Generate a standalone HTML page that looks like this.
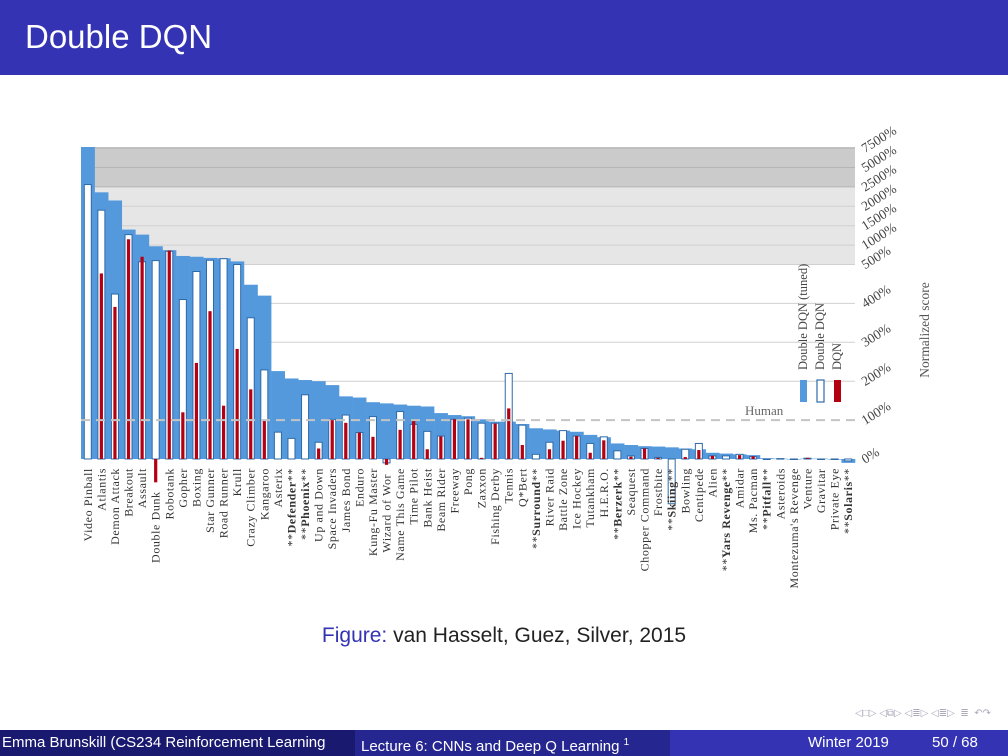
<!DOCTYPE html>
<html><head><meta charset="utf-8"><style>
body{margin:0;width:1008px;height:756px;overflow:hidden;background:#fff;font-family:"Liberation Sans",sans-serif;position:relative}
#hdr{position:absolute;left:0;top:0;width:1008px;height:75px;background:#3333b3;color:#fff;font-size:33px}
#hdr span{position:absolute;left:25px;top:18px}
#cap{position:absolute;top:624px;left:0;width:1008px;text-align:center;font-size:21px;color:#222}
#cap b{font-weight:normal;color:#3333b3}
#foot{position:absolute;left:0;top:730px;height:26px;width:1008px;color:#fff;font-size:15px}
#foot div{position:absolute;top:0;height:26px;line-height:26px;white-space:nowrap;overflow:hidden}
#nav{position:absolute;left:855px;top:708px;color:#aab;font-size:10px;white-space:nowrap}
</style></head><body>
<div id="hdr"><span>Double DQN</span></div>
<svg id="chart" width="1008" height="620" style="position:absolute;left:0;top:0"></svg>
<div id="cap"><b>Figure:</b> van Hasselt, Guez, Silver, 2015</div>
<div id="nav">◁□▷ ◁⧉▷ ◁≣▷ ◁≣▷ &nbsp;≣ &nbsp;↶↷</div>
<div id="foot">
<div style="left:0;width:355px;background:#191970;padding-left:2px">Emma Brunskill (CS234 Reinforcement Learning</div>
<div style="left:355px;width:315px;background:#262690;padding-left:6px">Lecture 6: CNNs and Deep Q Learning <sup style="font-size:10px">1</sup></div>
<div style="left:670px;width:338px;background:#3333b3"><span style="position:absolute;left:138px">Winter 2019</span><span style="position:absolute;left:262px">50 / 68</span></div>
</div>
<script>
const games=["Video Pinball","Atlantis","Demon Attack","Breakout","Assault","Double Dunk","Robotank","Gopher","Boxing","Star Gunner","Road Runner","Krull","Crazy Climber","Kangaroo","Asterix","**Defender**","**Phoenix**","Up and Down","Space Invaders","James Bond","Enduro","Kung-Fu Master","Wizard of Wor","Name This Game","Time Pilot","Bank Heist","Beam Rider","Freeway","Pong","Zaxxon","Fishing Derby","Tennis","Q*Bert","**Surround**","River Raid","Battle Zone","Ice Hockey","Tutankham","H.E.R.O.","**Berzerk**","Seaquest","Chopper Command","Frostbite","**Skiing**","Bowling","Centipede","Alien","**Yars Revenge**","Amidar","Ms. Pacman","**Pitfall**","Asteroids","Montezuma's Revenge","Venture","Gravitar","Private Eye","**Solaris**"];
const tuned=[8000,2360,2150,1400,1270,970,870,720,700,670,660,580,448,420,226,207,203,200,190,161,158,146,143,140,137,135,118,113,110,102,96,96,90,79,76,73,70,62,56,40,36,33,32,30,27,25,16,14,12,10,2,1,0,1,1,0,-10];
const ddqn=[2800,1900,424,1270,570,600,840,410,482,610,650,500,363,229,69,53,165,43,102,113,68,109,-10,122,89,71,59,102,105,92,92,220,87,12,43,73,59,40,57,21,8,27,4,-115,25,40,8,8,12,6,0,1,0,2,-1,0,-5];
const dqn=[0,477,391,1150,700,-60,860,120,247,380,137,283,179,98,0,0,0,27,100,93,68,57,-15,75,100,25,58,102,102,3,91,130,36,0,25,47,59,16,48,0,6,27,3,0,5,23,8,0,10,7,0,1,0,3,-1,0,0];
const tickVals=[0,100,200,300,400,500,1000,1500,2000,2500,5000,7500];
const tickLabels=["0%","100%","200%","300%","400%","500%","1000%","1500%","2000%","2500%","5000%","7500%"];
const svg=document.getElementById('chart');const NS='http://www.w3.org/2000/svg';
const X0=81,X1=855,Y0=459;
const slot=(X1-X0)/games.length;
function y(v){ if(v<=500) return Y0-v*0.389;
 const ks=[500,1000,1500,2000,2500,5000,7500,10000];
 for(let i=0;i<ks.length-1;i++){ if(v<=ks[i+1]) return Math.max(147,Y0-500*0.389-19.4*(i+(v-ks[i])/(ks[i+1]-ks[i]))); }
 return 147;}
function cx(i){return X0+slot*(i+0.5);}
function mk(t,a){const e=document.createElementNS(NS,t);for(const k in a)e.setAttribute(k,a[k]);svg.appendChild(e);return e;}
let e;
e=mk('rect',{x:X0,y:y(2500),width:X1-X0,height:y(500)-y(2500),fill:'#e6e6e6'});

e=mk('rect',{x:X0,y:147,width:X1-X0,height:y(2500)-147,fill:'#cbcbcb'});

tickVals.forEach((v,i)=>{
 if(v>0&&v!==100){e=mk('line',{x1:X0,x2:X1,y1:y(v),y2:y(v),stroke:v>=2500?'#b5b5b5':'#d0d0d0','stroke-width':1});
 }
 const ty=y(v);
 e=mk('text',{x:865,y:ty+5,'font-family':'Liberation Serif, serif','font-size':13.5,fill:'#444',transform:`rotate(-32 865 ${ty+5})`});
 e.textContent=tickLabels[i];
 
});
games.forEach((g,i)=>{
 const x=X0+slot*i;const t=tuned[i];const top=y(Math.max(t,0)),bot=y(Math.min(t,0));
 e=mk('rect',{x:x,y:top,width:slot+0.3,height:Math.max(bot-top,0.5),fill:'#5599dd'});
 
});
games.forEach((g,i)=>{
 const c=cx(i);const d=ddqn[i];const t1=y(Math.max(d,0)),b1=y(Math.min(d,0));
 e=mk('rect',{x:c-3.5,y:t1,width:7,height:Math.max(b1-t1,0.5),fill:'#fff',stroke:'#2f6aa8','stroke-width':1});
 
 const q=dqn[i];const t2=y(Math.max(q,0)),b2=y(Math.min(q,0));
 if(b2-t2>0.5){e=mk('rect',{x:c-1.6,y:t2,width:3.2,height:b2-t2,fill:'#b30012'});
 }
 const low=Math.max(y(Math.min(q,0))+2,Y0)+7;
 const bold=g.startsWith('**');const name=bold?g.slice(2,-2):g;
 e=mk('text',{x:c+4,y:low,'font-family':'Liberation Serif, serif','font-size':12,'letter-spacing':'0.6',fill:'#333','text-anchor':'end',transform:`rotate(-90 ${c+4} ${low})`});
 if(bold){e.appendChild(document.createTextNode('**'));const ts=document.createElementNS(NS,'tspan');ts.setAttribute('font-weight','bold');ts.textContent=name;e.appendChild(ts);e.appendChild(document.createTextNode('**'));}
 else e.textContent=name;
 
});
e=mk('line',{x1:X0,x2:X1,y1:y(100),y2:y(100),stroke:'#c4c4c4','stroke-width':2,'stroke-dasharray':'9,6'});

e=mk('text',{x:745,y:y(100)-5,'font-family':'Liberation Serif, serif','font-size':13,fill:'#666'});e.textContent='Human';

const legend=[["Double DQN (tuned)",'#5599dd','none'],["Double DQN",'#fff','#2f6aa8'],["DQN",'#b30012','none']];
legend.forEach((l,i)=>{const lx=803+i*17;
 e=mk('rect',{x:lx-3,y:380,width:7,height:22,fill:l[1],stroke:l[2],'stroke-width':1.2});
 
 e=mk('text',{x:lx+4,y:370,'font-family':'Liberation Serif, serif','font-size':12.5,fill:'#444',transform:`rotate(-90 ${lx+4} 370)`});e.textContent=l[0];
 
});
e=mk('text',{x:929,y:330,'font-family':'Liberation Serif, serif','font-size':13.5,fill:'#555','text-anchor':'middle',transform:'rotate(-90 929 330)'});e.textContent='Normalized score';

</script>
</body></html>
